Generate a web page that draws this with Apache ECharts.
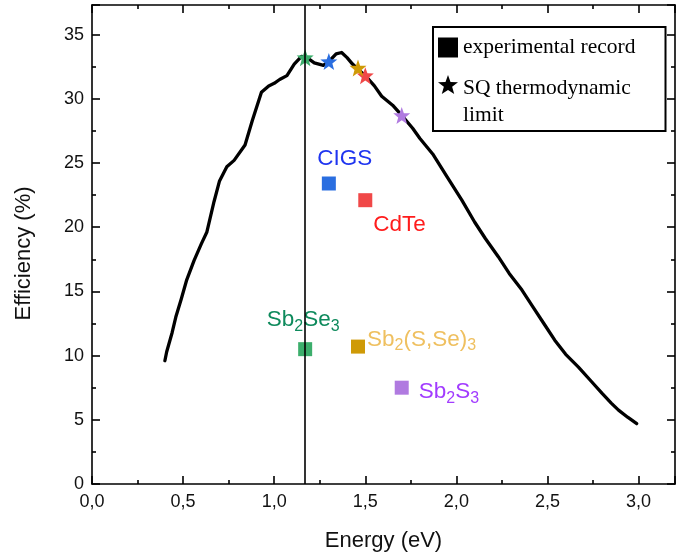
<!DOCTYPE html>
<html>
<head>
<meta charset="utf-8">
<script src="https://cdn.jsdelivr.net/npm/echarts@6/dist/echarts.min.js"></script>
<style>
  html, body { margin: 0; padding: 0; background: #fff; }
  #chart { width: 676px; height: 558px; }
</style>
</head>
<body>
<div id="chart"></div>
<script>
// SQ limit curve (eV, %)
var energy = [0.40, 0.41, 0.44, 0.46, 0.49, 0.52, 0.56, 0.60, 0.63, 0.67, 0.70, 0.74, 0.78, 0.84, 0.88,
  0.93, 0.97, 1.00, 1.03, 1.07, 1.11, 1.15, 1.18, 1.22, 1.27, 1.30, 1.34, 1.37, 1.40, 1.43, 1.46,
  1.50, 1.55, 1.59, 1.65, 1.70, 1.76, 1.80, 1.87, 1.95, 2.03, 2.10, 2.16, 2.23, 2.29, 2.36, 2.42,
  2.48, 2.54, 2.60, 2.67, 2.74, 2.80, 2.85, 2.89, 2.94, 2.99];
var efficiency = [9.6, 10.3, 11.8, 13.0, 14.4, 15.9, 17.4, 18.7, 19.6, 22.0, 23.6, 24.7, 25.2, 26.4, 28.3,
  30.5, 31.0, 31.2, 31.5, 31.8, 32.7, 33.3, 33.2, 32.8, 32.6, 32.9, 33.5, 33.6, 33.2, 32.7, 32.3,
  31.8, 31.0, 30.2, 29.5, 28.7, 27.7, 26.9, 25.7, 23.9, 22.1, 20.4, 19.1, 17.7, 16.4, 15.1, 13.8,
  12.5, 11.2, 10.1, 9.1, 8.0, 7.05, 6.3, 5.75, 5.2, 4.7];

// materials
var materials = ['CIGS', 'CdTe', 'Sb2Se3', 'Sb2(S,Se)3', 'Sb2S3'];
var bandgap = [1.30, 1.50, 1.17, 1.46, 1.70];
var recordEff = [23.4, 22.1, 10.5, 10.7, 7.5];
var sqEff = [32.9, 31.8, 33.2, 32.4, 28.7];

var xTicks = [0, 0.5, 1.0, 1.5, 2.0, 2.5, 3.0];
var yTicks = [0, 5, 10, 15, 20, 25, 30, 35];

// styling
var markColors = ['#2a6ee0', '#f04848', '#3cae6c', '#cf9a06', '#b07ae0'];
var textColors = ['#1f35f0', '#ff1c1c', '#0e8a5c', '#efc060', '#a23cff'];
var labelAlign = ['center', 'left', 'center', 'left', 'left'];
var labelOffsets = [[16, -25], [8, 25], [-2, -29], [9, -7], [17, 4]];
var labelTexts = [
  '{t|CIGS}',
  '{t|CdTe}',
  '{t|Sb}{s|2}{t|Se}{s|3}',
  '{t|Sb}{s|2}{t|(S,Se)}{s|3}',
  '{t|Sb}{s|2}{t|S}{s|3}'
];
var STAR = 'path://M12,0.5 L14.9,8.6 L23.6,8.9 L16.8,14.3 L19.2,22.7 L12,17.9 L4.8,22.7 L7.2,14.3 L0.4,8.9 L9.1,8.6 Z';
var FONT = 'Liberation Sans';

var chart = echarts.init(document.getElementById('chart'), null, { renderer: 'canvas' });

var curveData = energy.map(function (e, i) { return [e, efficiency[i]]; });

var starData = materials.map(function (m, i) {
  return { name: m, value: [bandgap[i], sqEff[i]], itemStyle: { color: markColors[i], opacity: 1 } };
});

var expData = materials.map(function (m, i) {
  return {
    name: m,
    value: [bandgap[i], recordEff[i]],
    itemStyle: { color: markColors[i], opacity: 1 },
    label: {
      show: true,
      position: 'inside',
      align: labelAlign[i],
      verticalAlign: 'middle',
      offset: labelOffsets[i],
      formatter: labelTexts[i],
      rich: {
        t: { fontFamily: FONT, fontSize: 22.5, color: textColors[i], verticalAlign: 'top', lineHeight: 23 },
        s: { fontFamily: FONT, fontSize: 16, color: textColors[i], verticalAlign: 'top', lineHeight: 16, padding: [10, 0, 0, 0] }
      }
    }
  };
});

var axisLineStyle = { color: '#000', width: 1.6 };

var option = {
  animation: false,
  backgroundColor: '#fff',
  grid: { left: 92, right: 1, top: 5, bottom: 74 },
  legend: {
    orient: 'vertical',
    left: 433,
    top: 27,
    padding: [7, 30, 2, 5],
    itemGap: -21,
    itemWidth: 20,
    itemHeight: 20,
    borderColor: '#000',
    borderWidth: 2,
    backgroundColor: '#fff',
    textStyle: {
      fontFamily: 'Liberation Serif', fontSize: 21.5, color: '#000', lineHeight: 27,
      rich: {
        a: { fontFamily: 'Liberation Serif', fontSize: 21.5, color: '#000', lineHeight: 27 },
        b: { fontFamily: 'Liberation Serif', fontSize: 21.5, color: '#000', lineHeight: 35 }
      }
    },
    data: [
      { name: 'experimental record', icon: 'rect' },
      { name: 'SQ thermodynamic limit', icon: STAR }
    ],
    formatter: function (name) {
      return name === 'SQ thermodynamic limit' ? '{b| }\n{a|SQ thermodynamic}\n{a|limit}' : name;
    }
  },
  xAxis: [{
    type: 'value',
    min: 0,
    max: 3.2,
    interval: 0.5,
    name: 'Energy (eV)',
    nameLocation: 'middle',
    nameGap: 46,
    nameTextStyle: { fontFamily: FONT, fontSize: 22, color: '#111' },
    axisLine: { show: true, onZero: false, lineStyle: axisLineStyle },
    axisTick: { show: true, inside: true, length: 8, lineStyle: axisLineStyle },
    minorTick: { show: true, splitNumber: 2, length: 4, lineStyle: axisLineStyle },
    axisLabel: {
      margin: 9, fontFamily: FONT, fontSize: 18, color: '#111', showMaxLabel: false,
      formatter: function (v) { return xTicks.indexOf(v) >= 0 ? v.toFixed(1).replace('.', ',') : ''; }
    },
    splitLine: { show: false }
  }, {
    type: 'value',
    position: 'top',
    min: 0,
    max: 3.2,
    interval: 0.5,
    axisLine: { show: true, onZero: false, lineStyle: axisLineStyle },
    axisTick: { show: true, inside: true, length: 8, lineStyle: axisLineStyle },
    minorTick: { show: true, splitNumber: 2, length: 4, lineStyle: axisLineStyle },
    axisLabel: { show: false },
    splitLine: { show: false }
  }],
  yAxis: [{
    type: 'value',
    min: 0,
    max: 37.3,
    interval: 5,
    name: 'Efficiency (%)',
    nameLocation: 'middle',
    nameGap: 57,
    nameTextStyle: { fontFamily: FONT, fontSize: 22, color: '#111', padding: [0, 18, 0, 0] },
    axisLine: { show: true, onZero: false, lineStyle: axisLineStyle },
    axisTick: { show: true, inside: true, length: 8, lineStyle: axisLineStyle },
    minorTick: { show: true, splitNumber: 2, length: 4, lineStyle: axisLineStyle },
    axisLabel: {
      margin: 8, fontFamily: FONT, fontSize: 18, color: '#111', showMaxLabel: false,
      formatter: function (v) { return yTicks.indexOf(v) >= 0 ? String(v) : ''; }
    },
    splitLine: { show: false }
  }, {
    type: 'value',
    position: 'right',
    min: 0,
    max: 37.3,
    interval: 5,
    axisLine: { show: true, onZero: false, lineStyle: axisLineStyle },
    axisTick: { show: true, inside: true, length: 8, lineStyle: axisLineStyle },
    minorTick: { show: true, splitNumber: 2, length: 4, lineStyle: axisLineStyle },
    axisLabel: { show: false },
    splitLine: { show: false }
  }],
  series: [
    {
      name: 'SQ curve',
      type: 'line',
      data: curveData,
      showSymbol: false,
      symbol: 'none',
      lineStyle: { color: '#000', width: 3.3, join: 'round', cap: 'round' },
      z: 2,
      markLine: {
        silent: true,
        symbol: ['none', 'none'],
        label: { show: false },
        lineStyle: { color: '#000', width: 1.6, type: 'solid' },
        data: [{ xAxis: bandgap[2] }]
      }
    },
    {
      name: 'SQ thermodynamic limit',
      type: 'scatter',
      symbol: STAR,
      symbolSize: 17,
      itemStyle: { color: '#000', opacity: 1 },
      data: starData,
      z: 4
    },
    {
      name: 'experimental record',
      type: 'scatter',
      symbol: 'rect',
      symbolSize: 14,
      itemStyle: { color: '#000', opacity: 1 },
      data: expData,
      z: 4
    }
  ]
};

chart.setOption(option);
</script>
</body>
</html>
